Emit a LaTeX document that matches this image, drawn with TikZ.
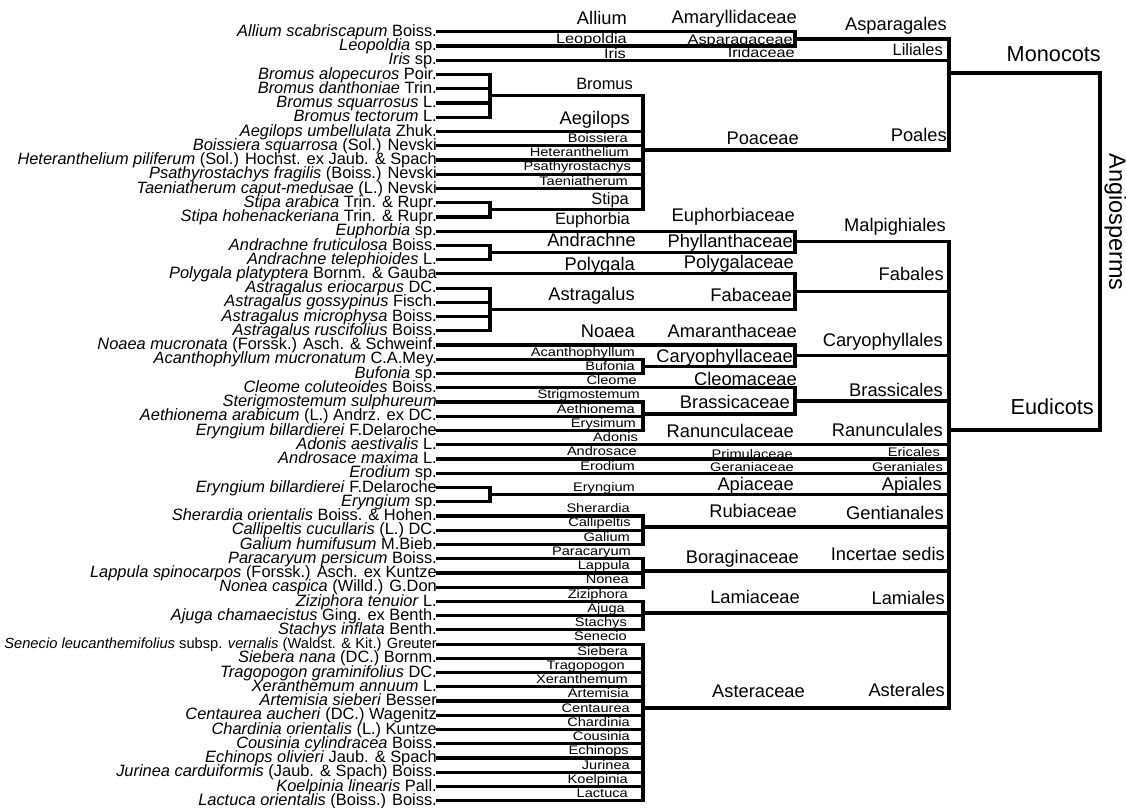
\documentclass[tikz,border=0pt]{standalone}
\usepackage{fontspec}
\setmainfont{Liberation Sans}
\usepackage{graphicx}
\usepackage{tikz}
\usetikzlibrary{calc}
\newcommand{\squish}[1]{\scalebox{1}[0.85]{#1}}
\tikzset{
  branch/.style={line width=3.2pt, line cap=rect},
  leaf label/.style={inner sep=0pt, anchor=base east,
    font=\fontsize{16.4}{16.4}\selectfont},
  big label/.style={inner sep=0pt, anchor=east, text height=0.72em, text depth=0pt,
    font=\fontsize{18.3}{18.3}\selectfont},
  mid label/.style={inner sep=0pt, anchor=east, text height=0.72em, text depth=0pt,
    font=\fontsize{16.4}{16.4}\selectfont},
  squat label/.style={inner sep=0pt, anchor=east, text height=0.61em, text depth=0pt,
    font=\fontsize{16.3}{16.3}\selectfont},
  small label/.style={inner sep=0pt, anchor=east, text height=0.61em, text depth=0pt,
    font=\fontsize{14.6}{14.6}\selectfont},
  clade label/.style={inner sep=0pt, anchor=east, text height=0.72em, text depth=0pt,
    font=\fontsize{21.7}{21.7}\selectfont}
}
\begin{document}
\begin{tikzpicture}[x=1pt,y=-1pt]
\useasboundingbox (0,0) rectangle (1126,807);
% levels
\coordinate (xa) at (490,0);
\coordinate (xg) at (643,0);
\coordinate (xf) at (795,0);
\coordinate (xo) at (949,0);
\coordinate (xc) at (1100,0);
% species
\foreach \taxon [count=\i] in {
  {\textit{Allium scabriscapum} Boiss.},
  {\textit{Leopoldia} sp.},
  {\textit{Iris} sp.},
  {\textit{Bromus alopecuros} Poir.},
  {\textit{Bromus danthoniae} Trin.},
  {\textit{Bromus squarrosus} L.},
  {\textit{Bromus tectorum} L.},
  {\textit{Aegilops umbellulata} Zhuk.},
  {\textit{Boissiera squarrosa} (Sol.) Nevski},
  {\textit{Heteranthelium piliferum} (Sol.) Hochst. ex Jaub. \& Spach},
  {\textit{Psathyrostachys fragilis} (Boiss.) Nevski},
  {\textit{Taeniatherum caput-medusae} (L.) Nevski},
  {\textit{Stipa arabica} Trin. \& Rupr.},
  {\textit{Stipa hohenackeriana} Trin. \& Rupr.},
  {\textit{Euphorbia} sp.},
  {\textit{Andrachne fruticulosa} Boiss.},
  {\textit{Andrachne telephioides} L.},
  {\textit{Polygala platyptera} Bornm. \& Gauba},
  {\textit{Astragalus eriocarpus} DC.},
  {\textit{Astragalus gossypinus} Fisch.},
  {\textit{Astragalus microphysa} Boiss.},
  {\textit{Astragalus ruscifolius} Boiss.},
  {\textit{Noaea mucronata} (Forssk.) Asch. \& Schweinf.},
  {\textit{Acanthophyllum mucronatum} C.A.Mey.},
  {\textit{Bufonia} sp.},
  {\textit{Cleome coluteoides} Boiss.},
  {\textit{Sterigmostemum sulphureum}},
  {\textit{Aethionema arabicum} (L.) Andrz. ex DC.},
  {\textit{Eryngium billardierei} F.Delaroche},
  {\textit{Adonis aestivalis} L.},
  {\textit{Androsace maxima} L.},
  {\textit{Erodium} sp.},
  {\textit{Eryngium billardierei} F.Delaroche},
  {\textit{Eryngium} sp.},
  {\textit{Sherardia orientalis} Boiss. \& Hohen.},
  {\textit{Callipeltis cucullaris} (L.) DC.},
  {\textit{Galium humifusum} M.Bieb.},
  {\textit{Paracaryum persicum} Boiss.},
  {\textit{Lappula spinocarpos} (Forssk.) Asch. ex Kuntze},
  {\textit{Nonea caspica} (Willd.) G.Don},
  {\textit{Ziziphora tenuior} L.},
  {\textit{Ajuga chamaecistus} Ging. ex Benth.},
  {\textit{Stachys inflata} Benth.},
  {\fontsize{14.7}{14.7}\selectfont\textit{Senecio leucanthemifolius} subsp. \textit{vernalis} (Waldst. \& Kit.) Greuter},
  {\textit{Siebera nana} (DC.) Bornm.},
  {\textit{Tragopogon graminifolius} DC.},
  {\textit{Xeranthemum annuum} L.},
  {\textit{Artemisia sieberi} Besser},
  {\textit{Centaurea aucheri} (DC.) Wagenitz},
  {\textit{Chardinia orientalis} (L.) Kuntze},
  {\textit{Cousinia cylindracea} Boiss.},
  {\textit{Echinops olivieri} Jaub. \& Spach},
  {\textit{Jurinea carduiformis} (Jaub. \& Spach) Boiss.},
  {\textit{Koelpinia linearis} Pall.},
  {\textit{Lactuca orientalis} (Boiss.) Boiss.}} {
  \pgfmathsetmacro\y{31.8+14.24*(\i-1)}
  \coordinate (l\i) at (438,\y);
  \node[leaf label] (s\i) at ([shift={(-1pt,-4.6pt)}]l\i) {\taxon};
}
% leaf branches
\foreach \i/\lev in {1/xf,2/xf,3/xo,4/xa,5/xa,6/xa,7/xa,8/xg,9/xg,10/xg,11/xg,12/xg,
    13/xa,14/xa,15/xf,16/xa,17/xa,18/xf,19/xa,20/xa,21/xa,22/xa,23/xf,24/xg,25/xg,
    26/xf,27/xg,28/xg,29/xg,30/xo,31/xo,32/xo,33/xa,34/xa}
  \draw[branch] (l\i) -- (l\i -| \lev);
\foreach \i in {35,...,55}
  \draw[branch] (l\i) -- (l\i -| xg);
% monocots
\draw[branch] (l1 -| xf) -- (l2 -| xf);
\coordinate (j-asparag) at ($(l1 -| xf)!.5!(l2 -| xf)$);
\draw[branch] (j-asparag) -- (j-asparag -| xo);
\draw[branch] (l4 -| xa) -- (l7 -| xa);
\coordinate (j-bromus) at ($(l4 -| xa)!.5!(l7 -| xa)$);
\draw[branch] (j-bromus) -- (j-bromus -| xg);
\draw[branch] (l13 -| xa) -- (l14 -| xa);
\coordinate (j-stipa) at ($(l13 -| xa)!.5!(l14 -| xa)$);
\draw[branch] (j-stipa) -- (j-stipa -| xg);
\draw[branch] (j-bromus -| xg) -- (j-stipa -| xg);
\coordinate (j-poaceae) at (643,150);
\draw[branch] (j-poaceae) -- (j-poaceae -| xo);
\draw[branch] (j-asparag -| xo) -- (j-poaceae -| xo);
\coordinate (j-monocots) at (949,73);
\draw[branch] (j-monocots) -- (j-monocots -| xc);
% eudicots
\draw[branch] (l16 -| xa) -- (l17 -| xa);
\coordinate (j-andrachne) at ($(l16 -| xa)!.5!(l17 -| xa)$);
\draw[branch] (j-andrachne) -- (j-andrachne -| xf);
\draw[branch] (l15 -| xf) -- (j-andrachne -| xf);
\coordinate (j-malpig) at ($(l15 -| xf)!.5!(j-andrachne -| xf)$);
\draw[branch] (j-malpig) -- (j-malpig -| xo);
\draw[branch] (l19 -| xa) -- (l22 -| xa);
\coordinate (j-astrag) at ($(l19 -| xa)!.5!(l22 -| xa)$);
\draw[branch] (j-astrag) -- (j-astrag -| xf);
\draw[branch] (l18 -| xf) -- (j-astrag -| xf);
\coordinate (j-fabales) at ($(l18 -| xf)!.5!(j-astrag -| xf)$);
\draw[branch] (j-fabales) -- (j-fabales -| xo);
\draw[branch] (l24 -| xg) -- (l25 -| xg);
\coordinate (j-caryo) at ($(l24 -| xg)!.5!(l25 -| xg)$);
\draw[branch] (j-caryo) -- (j-caryo -| xf);
\draw[branch] (l23 -| xf) -- (j-caryo -| xf);
\coordinate (j-caryales) at ($(l23 -| xf)!.5!(j-caryo -| xf)$);
\draw[branch] (j-caryales) -- (j-caryales -| xo);
\draw[branch] (l27 -| xg) -- (l29 -| xg);
\coordinate (j-brass) at (643,414);
\draw[branch] (j-brass) -- (j-brass -| xf);
\draw[branch] (l26 -| xf) -- (j-brass -| xf);
\coordinate (j-brassales) at ($(l26 -| xf)!.5!(j-brass -| xf)$);
\draw[branch] (j-brassales) -- (j-brassales -| xo);
\draw[branch] (l33 -| xa) -- (l34 -| xa);
\coordinate (j-apiac) at ($(l33 -| xa)!.5!(l34 -| xa)$);
\draw[branch] (j-apiac) -- (j-apiac -| xo);
\draw[branch] (l35 -| xg) -- (l37 -| xg);
\coordinate (j-rubiac) at (643,527);
\draw[branch] (j-rubiac) -- (j-rubiac -| xo);
\draw[branch] (l38 -| xg) -- (l40 -| xg);
\coordinate (j-borag) at (643,571);
\draw[branch] (j-borag) -- (j-borag -| xo);
\draw[branch] (l41 -| xg) -- (l43 -| xg);
\coordinate (j-lamiac) at (643,613);
\draw[branch] (j-lamiac) -- (j-lamiac -| xo);
\draw[branch] (l44 -| xg) -- (l55 -| xg);
\coordinate (j-asterac) at (643,708);
\draw[branch] (j-asterac) -- (j-asterac -| xo);
\draw[branch] (j-malpig -| xo) -- (j-asterac -| xo);
\coordinate (j-eudicots) at (949,430);
\draw[branch] (j-eudicots) -- (j-eudicots -| xc);
\draw[branch] (j-monocots -| xc) -- (j-eudicots -| xc);
% genus labels
\foreach \x/\y/\name in {627/21/Allium, 630/121/Aegilops, 636/243/Andrachne,
    635/267/Polygala, 635/297/Astragalus, 635/334/Noaea}
  \node[big label] (g-\name) at (\x,\y) {\name};
\foreach \x/\y/\name in {633/86/Bromus, 629/201/Stipa, 630/221/Euphorbia}
  \node[mid label] (g-\name) at (\x,\y) {\name};
\node[squat label] (g-Leopoldia) at (627,40) {\squish{Leopoldia}};
\node[squat label] (g-Iris) at (626,55) {\squish{Iris}};
\node[small label] (g-Eryngium) at (635,488.5) {\squish{Eryngium}};
\foreach \r/\x/\name in {9/628/Boissiera,
    10/629/Heteranthelium, 11/631/Psathyrostachys, 12/628/Taeniatherum,
    24/635/Acanthophyllum, 25/635/Bufonia, 26/637/Cleome, 27/640/Strigmostemum,
    28/635/Aethionema, 29/636/Erysimum, 30/638/Adonis, 31/637/Androsace,
    32/635/Erodium, 35/630/Sherardia, 36/631/Callipeltis,
    37/630/Galium, 38/631/Paracaryum, 39/630/Lappula, 40/629/Nonea,
    41/628/Ziziphora, 42/625/Ajuga, 43/627/Stachys, 44/627/Senecio,
    45/628/Siebera, 46/625/Tragopogon, 47/628/Xeranthemum, 48/629/Artemisia,
    49/630/Centaurea, 50/630/Chardinia, 51/630/Cousinia, 52/629/Echinops,
    53/630/Jurinea, 54/628/Koelpinia, 55/628/Lactuca}
  \node[small label] (g-\name) at (\x,{31.8+14.24*(\r-1)-6.3}) {\squish{\name}};
% family labels
\foreach \x/\y/\name in {797/19.5/Amaryllidaceae, 799/141/Poaceae,
    795/217.5/Euphorbiaceae, 793/244/Phyllanthaceae, 794/265/Polygalaceae,
    792/298/Fabaceae, 797/334/Amaranthaceae, 793/359/Caryophyllaceae,
    797/382/Cleomaceae, 790/405/Brassicaceae, 794/433.5/Ranunculaceae,
    794/487/Apiaceae, 797/514/Rubiaceae, 799/560/Boraginaceae,
    800/600/Lamiaceae, 805/694/Asteraceae}
  \node[big label] (f-\name) at (\x,\y) {\name};
\node[squat label] (f-Asparagaceae) at (793,41) {\squish{Asparagaceae}};
\node[squat label] (f-Iridaceae) at (795,54.5) {\squish{Iridaceae}};
\node[small label] (f-Primulaceae) at (793,455) {\squish{Primulaceae}};
\node[small label] (f-Geraniaceae) at (794,468) {\squish{Geraniaceae}};
% order labels
\foreach \x/\y/\name in {947/27/Asparagales, 947/138/Poales, 946/228/Malpighiales,
    944/277/Fabales, 943/343/Caryophyllales, 943/393/Brassicales,
    943/433/Ranunculales, 942/487/Apiales, 944/516/Gentianales,
    945/601/Lamiales, 945/693/Asterales}
  \node[big label] (o-\name) at (\x,\y) {\name};
\node[big label] (o-incertae) at (945,557) {Incertae sedis};
\node[mid label] (o-Liliales) at (943,52) {Liliales};
\node[small label] (o-Ericales) at (940,453) {\squish{Ericales}};
\node[small label] (o-Geraniales) at (943,468) {\squish{Geraniales}};
% clades
\node[clade label] (monocots) at (1101,58) {Monocots};
\node[clade label] (eudicots) at (1094,411) {Eudicots};
\node[clade label, anchor=center, rotate=-90, font=\fontsize{23.5}{23.5}\selectfont]
  (angio) at (1113,222) {Angiosperms};
\end{tikzpicture}
\end{document}
